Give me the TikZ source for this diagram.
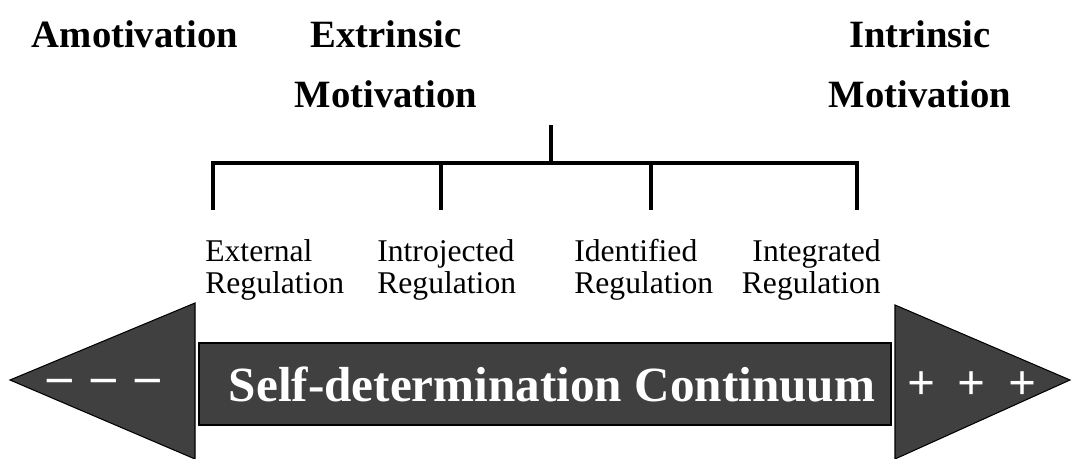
\documentclass[tikz,border=0pt]{standalone}
\usepackage{fontspec}
\setmainfont{Liberation Serif}
\usepackage{tikz}

\begin{document}
\begin{tikzpicture}[x=0.02cm,y=-0.02cm,
  title/.style={font=\fontsize{22}{34}\selectfont\bfseries, align=center, inner sep=0pt},
  reg/.style={font=\fontsize{18}{18}\selectfont, inner sep=0pt},
  sign/.style={font=\fontsize{28}{30}\selectfont\bfseries, text=white, inner sep=0pt},
  band/.style={fill=black!75, draw=black, line width=0.6pt}]
\useasboundingbox (0,0) rectangle (1074,459);
\coordinate (top) at (551,125);
\coordinate (mid) at (551,163);
\coordinate (b1) at (213,163);
\coordinate (b2) at (441,163);
\coordinate (b3) at (651,163);
\coordinate (b4) at (857,163);
\coordinate (t1) at (213,210);
\coordinate (t2) at (441,210);
\coordinate (t3) at (651,210);
\coordinate (t4) at (857,210);
% draws the continuum arrow
\fill[band] (10,380) -- (195,303) -- (195,459) -- cycle;
\fill[band] (199,343) rectangle (891,425);
\fill[band] (895,305) -- (1070,380) -- (895,459) -- cycle;
% labels the arrow
\node[sign] (minus) at (104,386) {\textendash\hspace{0.4em}\textendash\hspace{0.4em}\textendash};
\node[sign] (cont) at (552,384) {Self-determination Continuum};
\node[sign] (plus) at (972,386) {+\hspace{0.45em}+\hspace{0.45em}+};
% labels motivation types
\node[title] (amo) at (135,34) {Amotivation};
\node[title] (extr) at (386,64) {Extrinsic\\Motivation};
\node[title] (intr) at (920,64) {Intrinsic\\Motivation};
% labels regulations
\node[reg, anchor=west, align=left] (ext) at (205,270) {External\\Regulation};
\node[reg, anchor=west, align=left] (intro) at (377,270) {Introjected\\Regulation};
\node[reg, anchor=west, align=left] (ident) at (574,270) {Identified\\Regulation};
\node[reg, anchor=east, align=right] (integ) at (881,270) {Integrated\\Regulation};
% draws bracket
\begin{scope}[line width=2.8pt]
\draw (top) -- (mid);
\draw[line cap=rect] (b1) -- (b4);
\draw (b1) -- (t1);
\draw (b2) -- (t2);
\draw (b3) -- (t3);
\draw (b4) -- (t4);
\end{scope}
\end{tikzpicture}
\end{document}
